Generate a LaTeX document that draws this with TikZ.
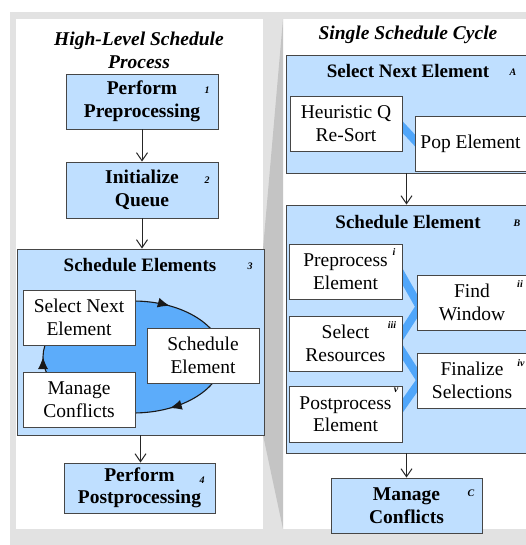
\documentclass[tikz,border=0pt]{standalone}
\usepackage{fontspec}
\setmainfont{Liberation Serif}
\usetikzlibrary{arrows.meta,decorations.markings,calc}
\definecolor{boxblue}{RGB}{191,223,255}
\definecolor{loopblue}{RGB}{92,172,250}
\definecolor{bandblue}{RGB}{80,166,250}
\definecolor{panelgray}{RGB}{226,226,226}
\definecolor{wedgegray}{RGB}{196,196,196}
\definecolor{edgegray}{RGB}{70,70,70}
\pgfdeclarelayer{back}
\pgfdeclarelayer{mid}
\pgfsetlayers{back,mid,main}
\begin{document}
\begin{tikzpicture}[x=1pt,y=-1pt,
  box/.style={draw=edgegray, line width=0.9pt, inner sep=0pt, align=center, font=\fontsize{19.5}{22.5}\selectfont},
  bluebox/.style={box, fill=boxblue, font=\fontsize{19.5}{22.5}\selectfont\bfseries},
  whitebox/.style={box, fill=white},
  container/.style={draw=edgegray, line width=0.9pt, fill=boxblue, inner sep=0pt},
  ptitle/.style={font=\fontsize{19.5}{23}\selectfont\bfseries\itshape, align=center, inner sep=0pt},
  ctitle/.style={font=\fontsize{19}{22}\selectfont\bfseries, inner sep=0pt},
  tag/.style={font=\fontsize{10}{11}\selectfont\bfseries\itshape, inner sep=0pt},
  band/.style={draw=bandblue, line width=8pt, shorten <=-8pt, shorten >=-8pt},
  flow/.style={draw=black!85, line width=1pt, -{Straight Barb[length=8pt,width=11pt]}}
]
\useasboundingbox (0,0) rectangle (526,545);
\begin{pgfonlayer}{back}
\fill[white] (0,0) rectangle (526,545);
\fill[panelgray] (10,12) rectangle (526,545);
\fill[white] (16,19) rectangle (263,529);
\fill[white] (283,19) rectangle (526,529);
\fill[wedgegray] (263,249) -- (283,19) -- (283,529) -- (263,435) -- cycle;
\node[container, minimum width=247, minimum height=186] (se) at (140.5,342) {};
\node[container, minimum width=241, minimum height=118] (sa) at (406.5,114) {};
\node[container, minimum width=241, minimum height=248] (sb) at (406.5,329) {};
\end{pgfonlayer}

% left panel
\node[ptitle] (lt) at (139,50) {High-Level Schedule\\Process};
\node[bluebox, minimum width=152, minimum height=55] (pp) at (142,101.5) {Perform\\Preprocessing};
\node[tag] (t1) at (207,90) {1};
\node[bluebox, minimum width=152, minimum height=56] (iq) at (142,190) {Initialize\\Queue};
\node[tag] (t2) at (207,180) {2};
\node[ctitle] (set) at (140,265) {Schedule Elements};
\node[tag] (t3) at (250,266) {3};
\node[whitebox, minimum width=112, minimum height=55] (sne) at (79,317.5) {Select Next\\Element};
\node[whitebox, minimum width=112, minimum height=55] (mc) at (79,399.5) {Manage\\Conflicts};
\node[whitebox, minimum width=112, minimum height=55] (sch) at (203,355.5) {Schedule\\Element};
\node[bluebox, minimum width=151, minimum height=50] (pop) at (139.5,488) {Perform\\Postprocessing};
\node[tag] (t4) at (202,480) {4};

% right panel
\node[ptitle] (rt) at (408,35) {Single Schedule Cycle};
\node[ctitle] (sat) at (408,71) {Select Next Element};
\node[tag] (ta) at (513,72) {A};
\node[whitebox, minimum width=112, minimum height=55] (hq) at (346,123.5) {Heuristic Q\\Re-Sort};
\node[whitebox, minimum width=111, minimum height=55] (pe) at (470.5,143.5) {Pop Element};
\node[ctitle] (sbt) at (408,222) {Schedule Element};
\node[tag] (tb) at (517,223) {B};
\node[whitebox, minimum width=113, minimum height=55] (prep) at (345.5,271.5) {Preprocess\\Element};
\node[tag] (ti) at (394,252) {i};
\node[whitebox, minimum width=113, minimum height=55] (selr) at (345.5,343.5) {Select\\Resources};
\node[tag] (tiii) at (392,325) {iii};
\node[whitebox, minimum width=113, minimum height=56] (postp) at (345.5,414) {Postprocess\\Element};
\node[tag] (tv) at (396,390) {v};
\node[whitebox, minimum width=110, minimum height=55] (fw) at (472,302.5) {Find\\Window};
\node[tag] (tii) at (520,284) {ii};
\node[whitebox, minimum width=110, minimum height=55] (fin) at (472,380.5) {Finalize\\Selections};
\node[tag] (tiv) at (521,363) {iv};
\node[bluebox, minimum width=151, minimum height=55] (mcr) at (406.5,505.5) {Manage\\Conflicts};
\node[tag] (tc) at (471,493) {C};

% connectors
\draw[flow] (pp.south) -- (iq.north);
\draw[flow] (iq.south) -- (iq.south |- se.north);
\draw[flow] (se.south) -- (se.south |- pop.north);
\draw[flow] (sa.south) -- (sa.south |- sb.north);
\draw[flow] (sb.south) -- (sb.south |- mcr.north);

\begin{pgfonlayer}{mid}
\path[fill=loopblue, draw=black!90, line width=1.1pt, postaction={decorate},
  decoration={markings,
    mark=at position 0.17 with {\arrow{Latex[length=12pt,width=10pt]}},
    mark=at position 0.5 with {\arrow{Latex[length=12pt,width=10pt]}},
    mark=at position 0.83 with {\arrow{Latex[length=12pt,width=10pt]}}}]
  (133,357) ellipse [x radius=90, y radius=56];
\draw[band] ($(hq.east)+(0,3.5)$) -- ($(pe.west)+(0,-3.5)$);
\draw[band] ($(prep.east)+(0,5)$) -- ($(fw.west)+(0,-1)$);
\draw[band] ($(selr.east)+(0,-10)$) -- ($(fw.west)+(0,9)$);
\draw[band] ($(selr.east)+(0,8.5)$) -- ($(fin.west)+(0,-6.5)$);
\draw[band] ($(postp.east)+(0,-8)$) -- ($(fin.west)+(0,5.5)$);
\end{pgfonlayer}
\end{tikzpicture}
\end{document}
